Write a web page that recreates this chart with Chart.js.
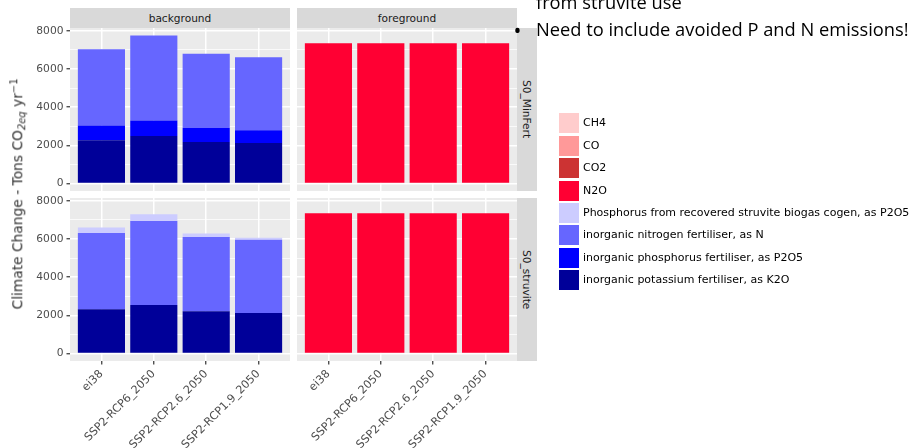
<!DOCTYPE html>
<html>
<head>
<meta charset="utf-8">
<script src="https://cdn.jsdelivr.net/npm/chart.js@4.4.1/dist/chart.umd.min.js"></script>
<style>
  body { margin: 0; background: #fff; }
  #wrap { position: relative; width: 913px; height: 448px; overflow: hidden; font-family: 'DejaVu Sans', sans-serif; }
  canvas { position: absolute; left: 0; top: 0; }
  .strip { position: absolute; background: #D9D9D9; color: #1A1A1A; font-size: 10.6px; display: flex; align-items: center; justify-content: center; z-index: 2; }
  .strip.side { writing-mode: vertical-rl; }
  #ytitle { position: absolute; left: 18px; top: 194px; transform: translate(-50%, -50%) rotate(-90deg); white-space: nowrap; font-size: 13.8px; font-weight: normal; color: #333; z-index: 2; }
  #ytitle sub { font-size: 0.72em; font-style: italic; vertical-align: -0.3em; }
  #ytitle sup { font-size: 0.72em; vertical-align: 0.55em; }
  .key { position: absolute; width: 20px; height: 20px; z-index: 2; }
  .keytext { position: absolute; font-size: 11px; color: #000; white-space: nowrap; line-height: 20px; z-index: 2; }
  .slide { position: absolute; font-family: 'Open Sans', sans-serif; font-size: 18.3px; line-height: 1; color: #000; white-space: nowrap; z-index: 3; }
</style>
</head>
<body>
<div id="wrap"></div>
<script>
// scenarios on the x axis, facet labels
const scenarios = ['ei38', 'SSP2-RCP6_2050', 'SSP2-RCP2.6_2050', 'SSP2-RCP1.9_2050'];
const columns = ['background', 'foreground'];
const rows = ['S0_MinFert', 'S0_struvite'];

const sources = [
  'CH4',
  'CO',
  'CO2',
  'N2O',
  'Phosphorus from recovered struvite biogas cogen, as P2O5',
  'inorganic nitrogen fertiliser, as N',
  'inorganic phosphorus fertiliser, as P2O5',
  'inorganic potassium fertiliser, as K2O'
];
const sourceColours = ['#FFCCCC', '#FF9999', '#CC3333', '#FF0033', '#CCCCFF', '#6666FF', '#0000FF', '#000099'];

const yTicks = [0, 2000, 4000, 6000, 8000];
const yMinor = [1000, 3000, 5000, 7000];

// background / S0_MinFert
const minFertK2O = [2270, 2490, 2180, 2130];
const minFertP2O5 = [770, 820, 730, 660];
const minFertN = [3990, 4450, 3895, 3820];
// background / S0_struvite
const struviteK2O = [2320, 2550, 2220, 2130];
const struviteN = [4000, 4400, 3880, 3830];
const struviteRecoveredP = [280, 350, 190, 100];
// foreground
const minFertN2O = [7350, 7350, 7350, 7350];
const struviteN2O = [7350, 7350, 7350, 7350];

// panel index -> {source index: values}
const panels = [
  { row: 0, col: 0, series: { 7: minFertK2O, 6: minFertP2O5, 5: minFertN } },
  { row: 0, col: 1, series: { 3: minFertN2O } },
  { row: 1, col: 0, series: { 7: struviteK2O, 5: struviteN, 4: struviteRecoveredP } },
  { row: 1, col: 1, series: { 3: struviteN2O } }
];

// layout of the facet grid
const W = 913, H = 448;
const colLeft = [70, 297], colRight = [290, 517];
const rowTop = [28, 198], rowBottom = [191, 361];

// shared y range, ggplot-style 5% expansion
let maxTotal = 0;
panels.forEach(p => {
  scenarios.forEach((s, j) => {
    let t = 0;
    Object.values(p.series).forEach(arr => t += arr[j]);
    maxTotal = Math.max(maxTotal, t);
  });
});
const yMin = -0.05 * maxTotal, yMax = 1.05 * maxTotal;

const panelBg = {
  id: 'panelBg',
  beforeDraw(chart) {
    const a = chart.chartArea, c = chart.ctx;
    c.save();
    c.fillStyle = '#EBEBEB';
    c.fillRect(a.left, a.top, a.right - a.left, a.bottom - a.top);
    c.restore();
  }
};

function zeroPad(s) {
  s.paddingLeft = 0; s.paddingRight = 0; s.paddingTop = 0; s.paddingBottom = 0;
}

const wrap = document.getElementById('wrap');

panels.forEach(p => {
  const leftCol = p.col === 0;
  const bottomRow = p.row === 1;
  const canvas = document.createElement('canvas');
  canvas.width = W; canvas.height = H;
  wrap.appendChild(canvas);

  const datasets = [];
  for (let i = sources.length - 1; i >= 0; i--) {
    if (!p.series[i]) continue;
    datasets.push({
      label: sources[i],
      data: p.series[i].map((v, j) => ({ x: j + 1, y: v })),
      backgroundColor: sourceColours[i],
      borderWidth: 0,
      stack: 'all'
    });
  }

  const xAxisH = bottomRow ? 87 : 0;
  const yAxisW = leftCol ? 70 : 0;

  new Chart(canvas, {
    type: 'bar',
    data: { datasets },
    options: {
      responsive: false,
      animation: false,
      events: [],
      layout: {
        padding: {
          left: colLeft[p.col] - yAxisW,
          right: W - colRight[p.col],
          top: rowTop[p.row],
          bottom: H - rowBottom[p.row] - xAxisH
        }
      },
      plugins: { legend: { display: false }, tooltip: { enabled: false } },
      datasets: { bar: { barPercentage: 0.9, categoryPercentage: 1 } },
      scales: {
        x: {
          type: 'linear', min: 0.4, max: 4.6, stacked: true, offset: false,
          afterBuildTicks: s => { s.ticks = scenarios.map((_, i) => ({ value: i + 1 })); },
          afterFit: s => { s.height = xAxisH; zeroPad(s); },
          ticks: {
            display: bottomRow, autoSkip: false, minRotation: 45, maxRotation: 45, padding: 3,
            color: '#4D4D4D', font: { family: 'DejaVu Sans', size: 11.2 },
            callback: v => scenarios[v - 1]
          },
          grid: { color: '#FFFFFF', lineWidth: 1.5, offset: false, drawTicks: bottomRow, tickLength: 3.5, tickColor: '#333333', tickWidth: 1.2 },
          border: { display: false }
        },
        y: {
          min: yMin, max: yMax, stacked: true,
          afterBuildTicks: s => { s.ticks = yTicks.concat(yMinor).sort((a, b) => a - b).map(v => ({ value: v })); },
          afterFit: s => { s.width = yAxisW; zeroPad(s); },
          ticks: {
            display: leftCol, padding: 3, color: '#4D4D4D', font: { family: 'DejaVu Sans', size: 10.7 },
            callback: v => yTicks.includes(v) ? String(v) : ''
          },
          grid: {
            color: '#FFFFFF',
            lineWidth: c => (c.tick && yTicks.includes(c.tick.value)) ? 1.5 : 0.75,
            drawTicks: leftCol, tickLength: 3.5, tickWidth: 1.2,
            tickColor: c => (c.tick && yTicks.includes(c.tick.value)) ? '#333333' : 'rgba(0,0,0,0)'
          },
          border: { display: false }
        }
      }
    },
    plugins: [panelBg]
  });
});

function addDiv(cls, style, html) {
  const d = document.createElement('div');
  d.className = cls;
  Object.assign(d.style, style);
  d.innerHTML = html;
  wrap.appendChild(d);
  return d;
}

// facet strips
columns.forEach((name, c) => {
  addDiv('strip', { left: colLeft[c] + 'px', top: '8px', width: (colRight[c] - colLeft[c]) + 'px', height: '20px' }, name);
});
rows.forEach((name, r) => {
  addDiv('strip side', { left: colRight[1] + 'px', top: rowTop[r] + 'px', width: '20px', height: (rowBottom[r] - rowTop[r]) + 'px' }, name);
});

// y axis title
addDiv('', {}, '').id = 'ytitle';
document.getElementById('ytitle').innerHTML = 'Climate Change - Tons CO<sub>2eq</sub> yr<sup>\u22121</sup>';

// legend
sources.forEach((name, i) => {
  const top = 113.3 + i * 22.4;
  addDiv('key', { left: '559px', top: top + 'px', background: sourceColours[i] }, '');
  addDiv('keytext', { left: '583px', top: top + 'px' }, name);
});

// slide text around the chart
addDiv('slide', { left: '536px', top: '-6.8px' }, 'from struvite use');
addDiv('slide', { left: '513.5px', top: '20px', fontSize: '21px' }, '\u2022');
addDiv('slide', { left: '536px', top: '19.5px' }, 'Need to include avoided P and N emissions!');
</script>
</body>
</html>
